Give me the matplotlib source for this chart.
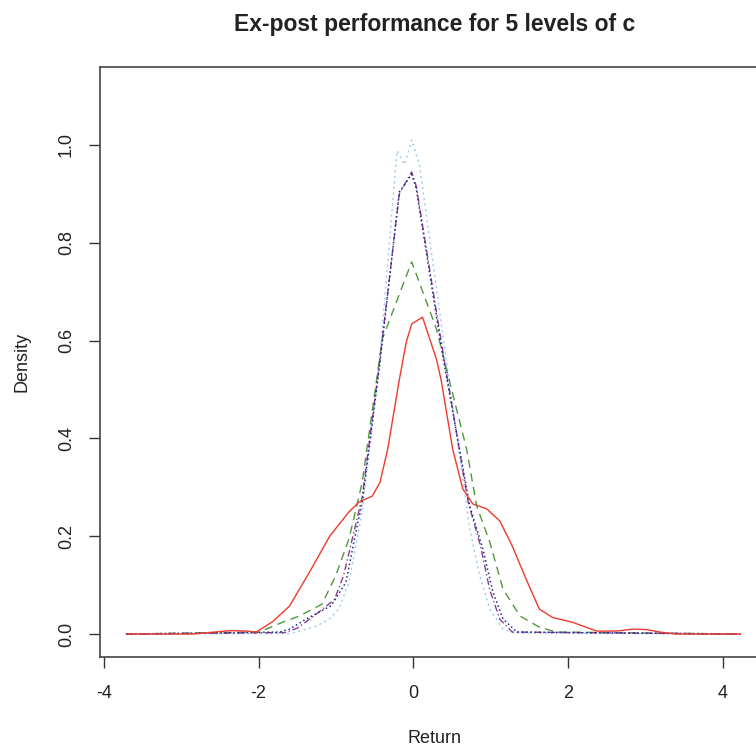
import matplotlib
matplotlib.use("Agg")
import matplotlib.pyplot as plt

plt.rcParams['font.family'] = ['Liberation Sans', 'DejaVu Sans']

# density curves for the 5 levels of c
red_x = [-3.71, -2.85, -2.64, -2.36, -2.15, -2.03, -1.82, -1.60, -1.34, -1.08, -0.83, -0.70,
         -0.53, -0.43, -0.33, -0.18, -0.09, -0.02, 0.12, 0.30, 0.36, 0.51, 0.64, 0.77, 0.95,
         1.12, 1.28, 1.46, 1.63, 1.80, 2.06, 2.37, 2.63, 2.84, 3.02, 3.19, 3.40, 4.23]
red_y = [0, 0, 0.003, 0.007, 0.006, 0.004, 0.025, 0.057, 0.127, 0.200, 0.250, 0.270,
         0.282, 0.310, 0.378, 0.520, 0.597, 0.634, 0.648, 0.562, 0.520, 0.378, 0.297, 0.266, 0.256,
         0.231, 0.180, 0.112, 0.051, 0.034, 0.024, 0.006, 0.006, 0.010, 0.009, 0.004, 0, 0]

green_x = [-3.71, -1.99, -1.69, -1.47, -1.18, -1.00, -0.83, -0.66, -0.40, -0.02, 0.30, 0.69,
           0.82, 0.99, 1.16, 1.38, 1.63, 1.85, 4.23]
green_y = [0, 0.004, 0.024, 0.037, 0.061, 0.120, 0.195, 0.310, 0.603, 0.761, 0.624, 0.378,
           0.262, 0.188, 0.092, 0.037, 0.014, 0.004, 0]

blue_x = [-3.71, -1.73, -1.60, -1.38, -1.06, -0.87, -0.76, -0.66, -0.44, -0.18, -0.02, 0.04,
          0.38, 0.73, 0.90, 1.03, 1.16, 1.34, 4.23]
blue_y = [0, 0.004, 0.010, 0.031, 0.058, 0.106, 0.194, 0.270, 0.542, 0.904, 0.940, 0.910,
          0.570, 0.262, 0.174, 0.086, 0.031, 0.004, 0]

purple_x = [-3.71, -1.65, -1.50, -1.30, -1.02, -0.90, -0.78, -0.66, -0.44, -0.18, -0.02, 0.04,
            0.38, 0.71, 0.87, 0.99, 1.12, 1.28, 4.23]
purple_y = [0, 0.003, 0.012, 0.035, 0.070, 0.120, 0.200, 0.280, 0.550, 0.900, 0.945, 0.915,
            0.580, 0.270, 0.180, 0.090, 0.030, 0.004, 0]

lblue_x = [-3.71, -1.60, -1.47, -1.25, -1.08, -0.96, -0.83, -0.66, -0.44, -0.21, -0.11, -0.02,
           0.08, 0.41, 0.73, 0.86, 0.99, 1.16, 1.31, 4.23]
lblue_y = [0, 0.001, 0.006, 0.016, 0.031, 0.051, 0.106, 0.250, 0.550, 0.988, 0.960, 1.010,
           0.960, 0.580, 0.215, 0.119, 0.051, 0.010, 0.002, 0]

x_ticks = [-4, -2, 0, 2, 4]
y_ticks = [0.0, 0.2, 0.4, 0.6, 0.8, 1.0]

fig = plt.figure(figsize=(7.56, 7.46), dpi=100)
ax = fig.add_axes([100 / 756, 1 - 657 / 746, 669 / 756, 590 / 746])

ax.plot(lblue_x, lblue_y, color="#9ccbec", lw=1.0, ls=(0, (1.5, 2.5)))
ax.plot(green_x, green_y, color="#4f9a3c", lw=1.0, ls=(0, (6, 4)))
ax.plot(purple_x, purple_y, color="#8a3d94", lw=1.0, ls=(0, (5, 2, 1, 2)))
ax.plot(blue_x, blue_y, color="#1c2a8c", lw=1.1, ls=(0, (1, 1.8)))
ax.plot(red_x, red_y, color="#ee3b2e", lw=1.0, ls="-")

ax.set_xlim(-4.05, 4.6)
ax.set_ylim(-0.047, 1.1595)
ax.set_xticks(x_ticks)
ax.set_xticklabels([str(v) for v in x_ticks])
ax.set_yticks(y_ticks)
ax.set_yticklabels([f"{v:.1f}" for v in y_ticks], rotation=90, va="center")

ax.tick_params(direction="out", length=8, width=1, colors="#333333",
               labelcolor="#222222", labelsize=13)
ax.tick_params(axis="x", pad=12)
ax.tick_params(axis="y", pad=10)
for s in ax.spines.values():
    s.set_color("#444444")
    s.set_linewidth(1.2)

ax.set_xlabel("Return", fontsize=13, color="#222222", labelpad=20)
ax.set_ylabel("Density", fontsize=13, color="#222222", labelpad=20)
ax.set_title("Ex-post performance for 5 levels of c", fontsize=16.5, fontweight="bold",
             color="#222222", pad=26)

fig.savefig("out.png", dpi=100)
